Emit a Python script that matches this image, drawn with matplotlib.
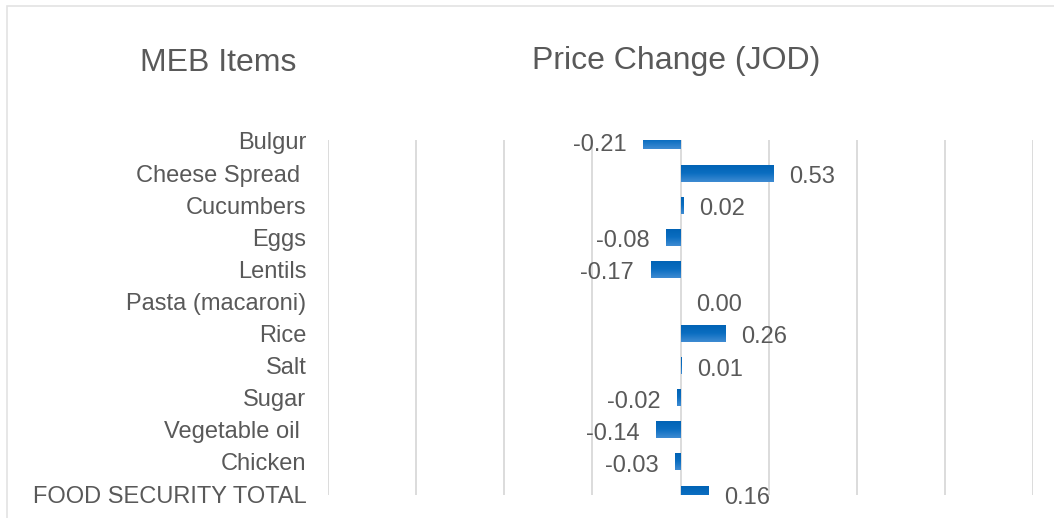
import numpy as np
import matplotlib
matplotlib.use('Agg')
from matplotlib import pyplot as plt
from matplotlib.colors import LinearSegmentedColormap
from matplotlib.patches import Rectangle

plt.rcParams['font.family'] = ['Liberation Sans', 'DejaVu Sans']

items = ['Bulgur', 'Cheese Spread ', 'Cucumbers', 'Eggs', 'Lentils',
         'Pasta (macaroni)', 'Rice', 'Salt', 'Sugar', 'Vegetable oil ',
         'Chicken', 'FOOD SECURITY TOTAL']
changes = [-0.21, 0.53, 0.02, -0.08, -0.17, 0.00, 0.26, 0.01, -0.02,
           -0.14, -0.03, 0.16]

TEXT = '#595959'
GRID = '#d9d9d9'
BAR_H = 0.53

fig = plt.figure(figsize=(10.54, 5.18), dpi=100)
ax = fig.add_axes([328 / 1054, 23 / 518, 705 / 1054, 355 / 518])

# chart area border (only top and left edges fall inside the image)
fig.patches.append(Rectangle((7 / 1054, -0.5), 2.0, 1.5 - 6 / 518,
                             transform=fig.transFigure, fill=False,
                             edgecolor='#e3e3e3', linewidth=1.2))

ypos = np.arange(len(items))
bars = ax.barh(ypos, changes, height=BAR_H, color='none', zorder=3)

# vertical gradient fill, lighter on top like the Excel bars
cmap = LinearSegmentedColormap.from_list('bar', ['#3e8bd2', '#0a6dc0', '#0062b4'])
grad = np.linspace(0, 1, 64).reshape(-1, 1)
for bar, v in zip(bars, changes):
    if v == 0:
        continue
    x0, y0 = bar.get_x(), bar.get_y()
    w, h = bar.get_width(), bar.get_height()
    im = ax.imshow(grad, cmap=cmap, aspect='auto', origin='lower',
                   extent=(x0, x0 + w, y0 + h, y0), zorder=3,
                   interpolation='bilinear')
    # pass the path (not the patch) so the axes clip box is kept too
    im.set_clip_path(bar.get_path(), bar.get_transform())

for y, v in zip(ypos, changes):
    if v < 0:
        ax.annotate(f'{v:.2f}', (v, y), xytext=(-12, -1),
                    textcoords='offset points', ha='right',
                    va='center_baseline', fontsize=17, color=TEXT)
    else:
        ax.annotate(f'{v:.2f}', (v, y), xytext=(11, -1),
                    textcoords='offset points', ha='left',
                    va='center_baseline', fontsize=17, color=TEXT)

ax.set_xlim(-2, 2)
ax.set_ylim(11.03, -0.03)
ax.set_xticks(np.arange(-2, 2.01, 0.5))
ax.xaxis.grid(True, color=GRID, linewidth=1.3)
ax.set_axisbelow(True)
ax.tick_params(axis='x', bottom=False, labelbottom=False)
ax.set_yticks(ypos)
ax.set_yticklabels(items, fontsize=17, color=TEXT)
ax.tick_params(axis='y', left=False, pad=12)
for s in ax.spines.values():
    s.set_visible(False)
ax.set_facecolor('none')

fig.text(218 / 1054, 1 - 63 / 518, 'MEB Items', ha='center', va='center',
         fontsize=23, color=TEXT)
fig.text(676 / 1054, 1 - 61 / 518, 'Price Change (JOD)', ha='center',
         va='center', fontsize=23, color=TEXT)

fig.savefig('out.png', dpi=100)
